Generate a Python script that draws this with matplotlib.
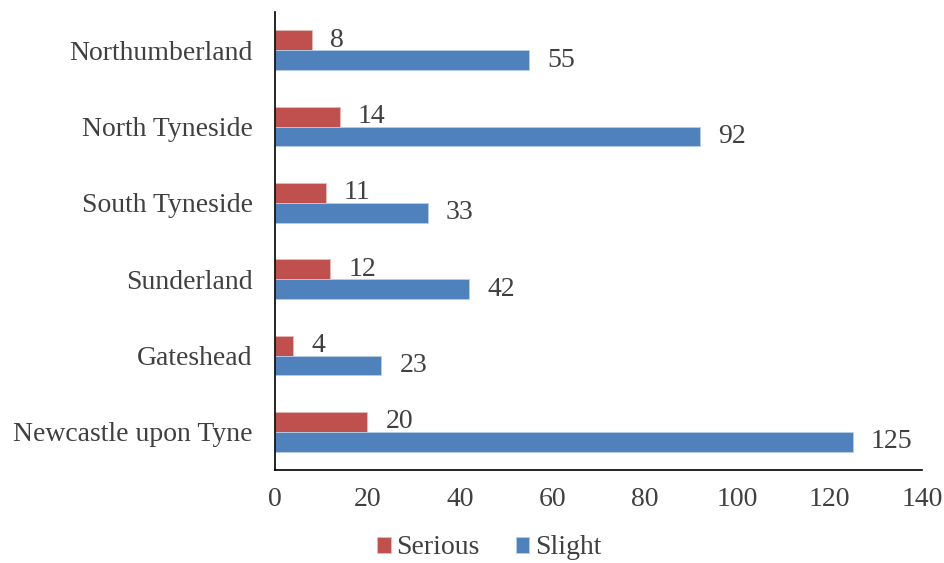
import matplotlib.pyplot as plt
import numpy as np

areas = ['Newcastle upon Tyne', 'Gateshead', 'Sunderland', 'South Tyneside',
         'North Tyneside', 'Northumberland']
serious = [20, 4, 12, 11, 14, 8]
slight = [125, 23, 42, 33, 92, 55]

plt.rcParams['font.family'] = ['Liberation Serif', 'DejaVu Serif']
txt = '#404040'
fs = 20

fig = plt.figure(figsize=(9.45, 5.63), dpi=100)
ax = fig.add_axes([275 / 945, 1 - 470 / 563, (922 - 275) / 945, (470 - 12) / 563])

y = np.arange(len(areas))
h = 0.262
b1 = ax.barh(y + h / 2, serious, height=h, color='#C0504D', edgecolor='#e8b9b8',
             linewidth=0.6, label='Serious')
b2 = ax.barh(y - h / 2, slight, height=h, color='#4F81BD', edgecolor='#b9cde5',
             linewidth=0.6, label='Slight')

# value labels just past the end of each bar
for bars, vals in ((b1, serious), (b2, slight)):
    for bar, v in zip(bars, vals):
        ax.annotate(str(v), (v, bar.get_y() + bar.get_height() / 2),
                    xytext=(18, 0), textcoords='offset pixels',
                    va='center', ha='left', fontsize=fs, color=txt)

ax.set_xlim(0, 140)
ax.set_ylim(-0.5, 5.5)
ax.set_xticks(range(0, 141, 20))
ax.set_yticks(y)
ax.set_yticklabels(areas)
ax.tick_params(length=0, labelsize=fs, labelcolor=txt)
ax.tick_params(axis='x', pad=12)
ax.tick_params(axis='y', pad=16)
for s in ('top', 'right'):
    ax.spines[s].set_visible(False)
for s in ('left', 'bottom'):
    ax.spines[s].set_linewidth(1.2)
    ax.spines[s].set_color('black')

fig.legend(handles=[b1, b2], loc='center', bbox_to_anchor=(489 / 945, 1 - 548 / 563),
           ncol=2, frameon=False, fontsize=fs, labelcolor=txt,
           handlelength=0.5, handleheight=0.5, handletextpad=0.2, columnspacing=1.3)

fig.savefig('out.png', dpi=100)
